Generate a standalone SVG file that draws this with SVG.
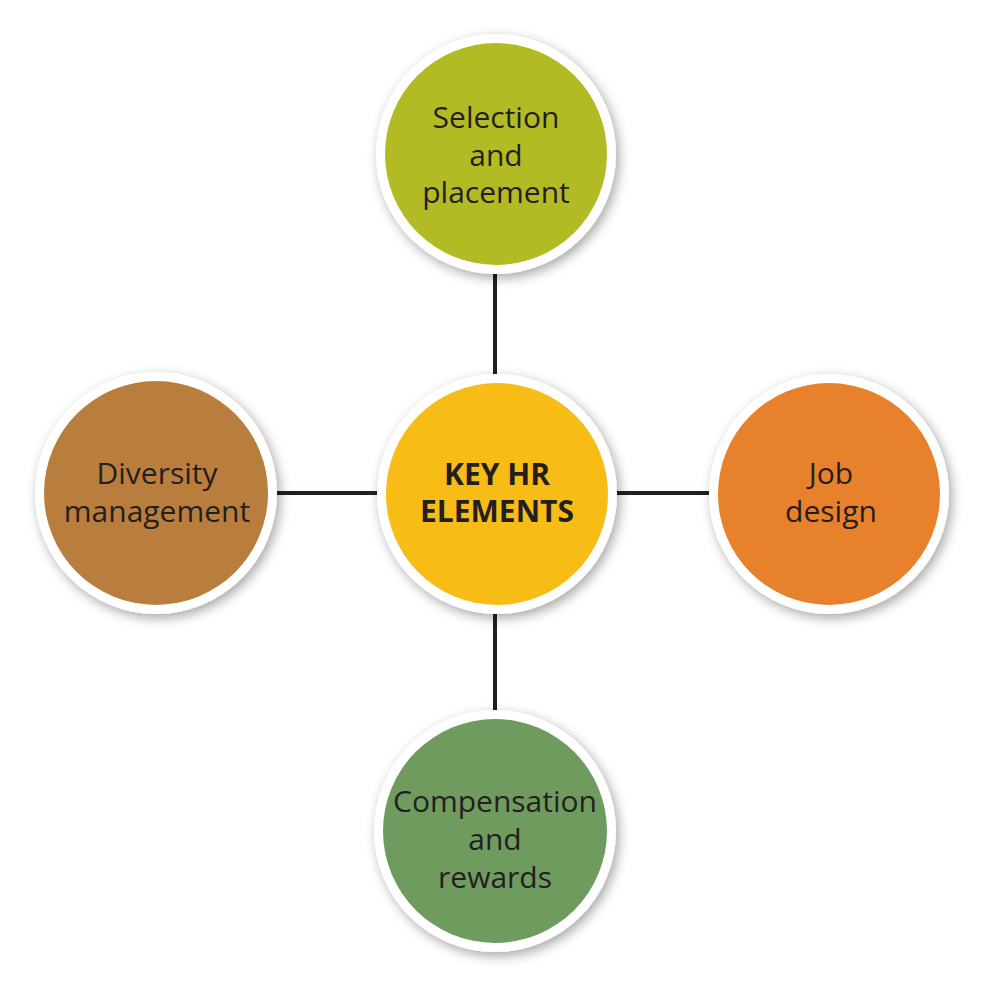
<svg xmlns="http://www.w3.org/2000/svg" width="987" height="986" viewBox="0 0 987 986">
<defs>
<filter id="sh" x="-20%" y="-20%" width="140%" height="140%">
<feDropShadow dx="3" dy="4" stdDeviation="6" flood-color="#000" flood-opacity="0.35"/>
</filter>
<style>
.ring{fill:#fff;filter:url(#sh)}
.lbl{font-family:"Open Sans","Noto Sans",sans-serif;font-size:30px;fill:#231f20;text-anchor:middle}
.bold{font-weight:bold;font-size:30px}
.conn{stroke:#231f20;stroke-width:4;fill:none}
</style>
</defs>
<rect width="987" height="986" fill="#fff"/>
<g id="connectors">
<line class="conn" x1="495" y1="270" x2="495" y2="375"/>
<line class="conn" x1="277" y1="493" x2="378" y2="493"/>
<line class="conn" x1="616" y1="493" x2="711" y2="493"/>
<line class="conn" x1="495" y1="613" x2="495" y2="712"/>
</g>
<g id="selection">
<circle class="ring" cx="496" cy="154" r="120"/>
<circle cx="496" cy="154" r="111" fill="#b3bb24"/>
<text class="lbl" x="496" y="128">Selection</text>
<text class="lbl" x="496" y="166">and</text>
<text class="lbl" x="496" y="203">placement</text>
</g>
<g id="key">
<circle class="ring" cx="497" cy="494" r="120"/>
<circle cx="497" cy="494" r="111" fill="#f8bc17"/>
<text class="lbl bold" x="497" y="485">KEY HR</text>
<text class="lbl bold" x="497" y="522">ELEMENTS</text>
</g>
<g id="diversity">
<circle class="ring" cx="156" cy="493" r="121"/>
<circle cx="156" cy="493" r="112" fill="#b97e3d"/>
<text class="lbl" x="157" y="484">Diversity</text>
<text class="lbl" x="157" y="522">management</text>
</g>
<g id="job">
<circle class="ring" cx="829" cy="494" r="120"/>
<circle cx="829" cy="494" r="111" fill="#e8812b"/>
<text class="lbl" x="831" y="484">Job</text>
<text class="lbl" x="831" y="522">design</text>
</g>
<g id="compensation">
<circle class="ring" cx="495" cy="831" r="121"/>
<circle cx="495" cy="831" r="112" fill="#709b5f"/>
<text class="lbl" x="495" y="812">Compensation</text>
<text class="lbl" x="495" y="850">and</text>
<text class="lbl" x="495" y="888">rewards</text>
</g>
</svg>
